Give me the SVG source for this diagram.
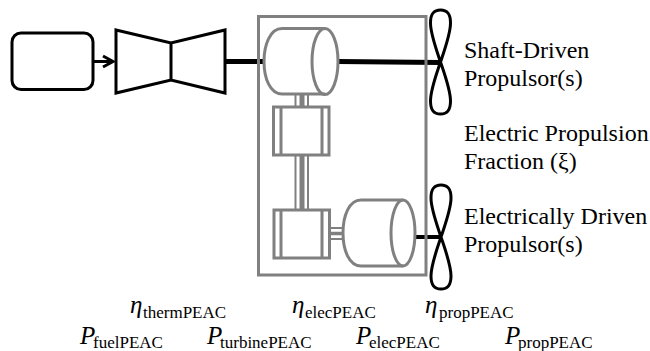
<svg xmlns="http://www.w3.org/2000/svg" width="650" height="351" viewBox="0 0 650 351">
<style>
.k{fill:none;stroke:#000;stroke-width:3;stroke-linejoin:miter}
.g{fill:none;stroke:#808080;stroke-width:3}
.s{fill:none;stroke:#808080;stroke-width:2}
.c{fill:none;stroke:#808080;stroke-width:5}
.t{font-family:"Liberation Serif",serif;font-size:24px;fill:#000}
.m{font-size:25px;font-style:italic}
.b{font-family:"Liberation Serif",serif;font-size:17px;fill:#000}
</style>
<defs>
<path id="blade" d="M0 0C-4 -12 -10 -28 -10 -39C-10 -48 -7 -52 0 -52C7 -52 10 -48 10 -39C10 -28 4 -12 0 0C-4 12 -10 28 -10 39C-10 48 -7 52 0 52C7 52 10 48 10 39C10 28 4 12 0 0Z"/>
</defs>
<g id="connectors">
<path class="k" d="M94 61.500H113M103 56L113 61.500L103 67"/>
<path d="M226 61.500H264" fill="none" stroke="#000" stroke-width="5"/>
<path d="M338 61.500L440 62.500" fill="none" stroke="#000" stroke-width="5"/>
<path d="M414 237H441" fill="none" stroke="#000" stroke-width="4"/>
<path class="s" d="M295.500 94V107M308 94V107M295.500 155V210M308 155V210M329 228H343M329 239H343"/>
<path class="c" d="M302 94V107M302 155V210"/>
<path class="c" style="stroke-width:3.500" d="M329 233.500H343"/>
</g>
<g id="source"><rect class="k" x="12" y="33" width="81" height="56.500" rx="9"/></g>
<g id="turbine"><path class="k" d="M116 30L171 43L225 30V93L171 80L116 93ZM171 43V80"/></g>
<g id="peac-box"><rect class="g" x="258.500" y="16.500" width="167.500" height="258.500"/></g>
<g id="motor-1"><path class="g" d="M325 28.500H282C270 28.500 264 45 264 61.500C264 78 270 94 282 94H325"/><ellipse class="g" cx="325" cy="61.500" rx="13" ry="33"/></g>
<g id="converter-1"><rect class="g" x="273.500" y="107" width="55.500" height="48"/><path class="g" d="M281 107V155M322 107V155"/></g>
<g id="converter-2"><rect class="g" x="274" y="210" width="55.500" height="48"/><path class="g" d="M281 210V258M322 210V258"/></g>
<g id="motor-2"><path class="g" d="M403 200H361C349 200 343 216 343 233C343 250 349 266 361 266H403"/><ellipse class="g" cx="403" cy="233" rx="12" ry="33"/></g>
<g id="propulsor-1"><use href="#blade" x="440.500" y="62" class="k"/></g>
<g id="propulsor-2"><use href="#blade" x="441" y="237" class="k"/></g>
<g id="labels">
<text class="t" x="464" y="57.500">Shaft-Driven</text>
<text class="t" x="464" y="86">Propulsor(s)</text>
<text class="t" x="464" y="141">Electric Propulsion</text>
<text class="t" x="464" y="169">Fraction (ξ)</text>
<text class="t" x="464" y="223.500">Electrically Driven</text>
<text class="t" x="464" y="252">Propulsor(s)</text>
<text class="b"><tspan class="m" x="130" y="313">η</tspan><tspan x="143" y="318">thermPEAC</tspan></text>
<text class="b"><tspan class="m" x="292" y="313">η</tspan><tspan x="305" y="318">elecPEAC</tspan></text>
<text class="b"><tspan class="m" x="425" y="313">η</tspan><tspan x="439" y="318">propPEAC</tspan></text>
<text class="b"><tspan class="m" x="80" y="344">P</tspan><tspan x="93" y="347.500">fuelPEAC</tspan></text>
<text class="b"><tspan class="m" x="207" y="344">P</tspan><tspan x="220" y="347.500">turbinePEAC</tspan></text>
<text class="b"><tspan class="m" x="356" y="344">P</tspan><tspan x="369" y="347.500">elecPEAC</tspan></text>
<text class="b"><tspan class="m" x="505" y="344">P</tspan><tspan x="518" y="347.500">propPEAC</tspan></text>
</g>
</svg>
